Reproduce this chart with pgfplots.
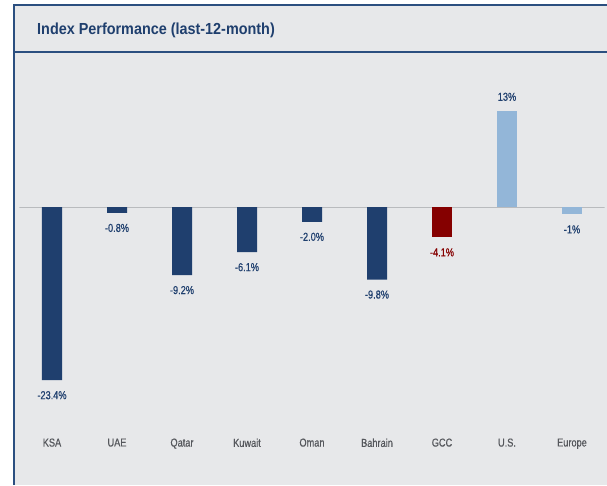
\documentclass[border=0pt]{standalone}
\usepackage{fontspec}
\setmainfont[FakeStretch=0.8,FakeBold=0.6]{Liberation Sans}
\newfontfamily\titlefont[FakeStretch=0.9]{Liberation Sans}
\usepackage{pgfplots}
\pgfplotsset{compat=1.18}
\definecolor{navy}{HTML}{1F3F6E}
\definecolor{darkred}{HTML}{850000}
\definecolor{lightblue}{HTML}{93B6D8}
\definecolor{bggray}{HTML}{E7E8EA}
\definecolor{framecol}{HTML}{2B4F80}
\definecolor{zerogray}{HTML}{B9BBBE}
\definecolor{labgray}{HTML}{55575C}
\begin{document}
\begin{tikzpicture}[x=1pt,y=1pt]
\useasboundingbox (0,0) rectangle (607,485);
\fill[bggray] (13.5,0) rectangle (607,480);
\draw[framecol, line width=2pt] (13.5,0) -- (13.5,480) -- (607,480);
\draw[framecol, line width=2pt] (13.5,433) -- (607,433);
\node[anchor=west, text=navy, inner sep=0pt, font=\titlefont\bfseries\fontsize{16}{19}\selectfont] at (37,455) {Index Performance (last-12-month)};
\begin{axis}[
  at={(19.5pt,53pt)}, anchor=south west,
  width=585pt, height=373pt, scale only axis,
  xmin=-0.5, xmax=8.5, ymin=-30.4, ymax=20,
  axis line style={draw=none},
  major tick length=0pt,
  ytick=\empty,
  xtick={0,1,2,3,4,5,6,7,8},
  xticklabels={KSA,UAE,Qatar,Kuwait,Oman,Bahrain,GCC,U.S.,Europe},
  xticklabel style={text=labgray, font=\fontsize{11.5}{13}\selectfont, yshift=-3pt},
  ybar, bar width=20pt, bar shift=0pt,
  point meta=explicit symbolic,
  nodes near coords,
  nodes near coords align=center,
  nodes near coords style={font=\fontsize{11.5}{13}\selectfont, inner sep=0pt},
]
\draw[zerogray, line width=1pt] (axis cs:-0.5,0) -- (axis cs:8.5,0);
\addplot[fill=navy, draw=none, every node near coord/.append style={text=navy, anchor=center, yshift=-15pt}] table[meta=lab] {
x y lab
0 -23.4 -23.4\%
1 -0.8 -0.8\%
2 -9.2 -9.2\%
3 -6.1 -6.1\%
4 -2.0 -2.0\%
5 -9.8 -9.8\%
};
\addplot[fill=darkred, draw=none, every node near coord/.append style={text=darkred, anchor=center, yshift=-15pt}] table[meta=lab] {
x y lab
6 -4.1 -4.1\%
};
\addplot[fill=lightblue, draw=none, every node near coord/.append style={text=navy, anchor=center, yshift=14pt}] table[meta=lab] {
x y lab
7 13 13\%
};
\addplot[fill=lightblue, draw=none, every node near coord/.append style={text=navy, anchor=center, yshift=-15pt}] table[meta=lab] {
x y lab
8 -1 -1\%
};
\end{axis}
\end{tikzpicture}
\end{document}
